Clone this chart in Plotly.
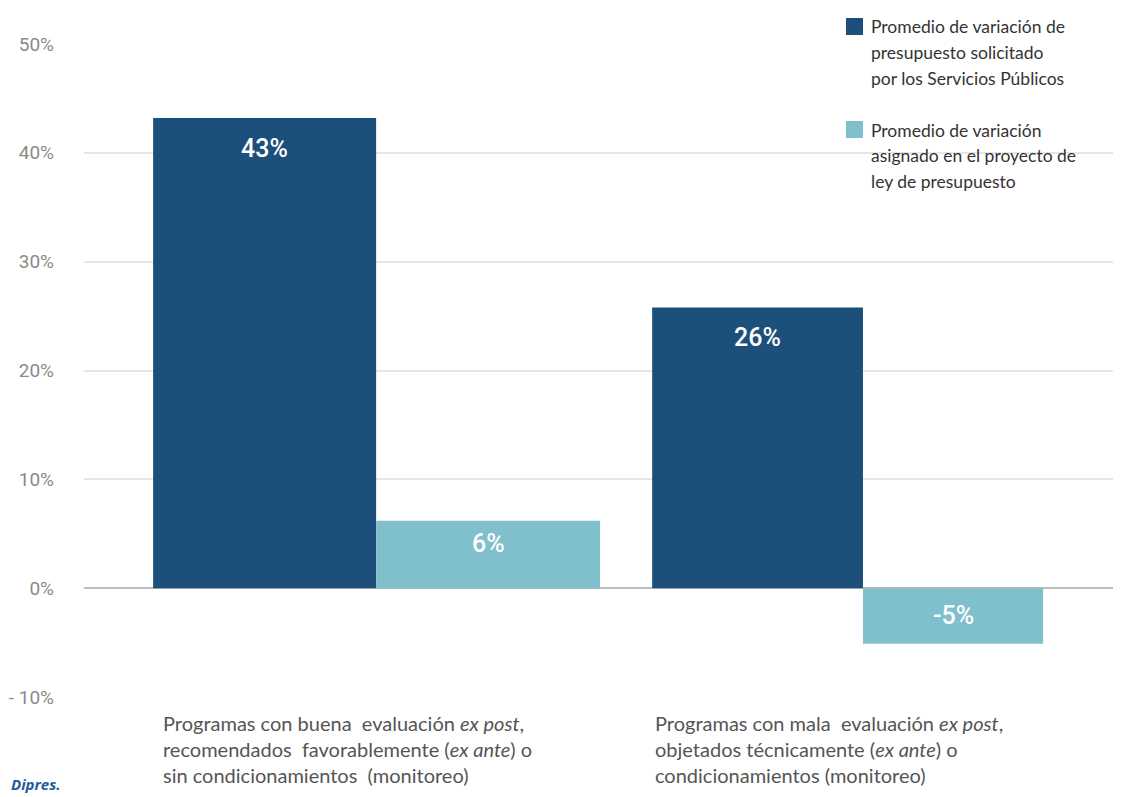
import plotly.graph_objects as go

categories = ["buena", "mala"]
category_labels = [
    "Programas con buena  evaluación <i>ex post</i>,<br>recomendados  favorablemente (<i>ex ante</i>) o<br>sin condicionamientos  (monitoreo)",
    "Programas con mala  evaluación <i>ex post</i>,<br>objetados técnicamente (<i>ex ante</i>) o<br>condicionamientos (monitoreo)",
]
solicitado = [43.2, 25.8]
asignado = [6.2, -5.1]
solicitado_labels = ["43%", "26%"]
asignado_labels = ["6%", "-5%"]
series_names = [
    "Promedio de variación de<br>presupuesto solicitado<br>por los Servicios Públicos",
    "Promedio de variación<br>asignado en el proyecto de<br>ley de presupuesto",
]
y_ticks = [-10, 0, 10, 20, 30, 40, 50]
y_tick_text = ["- 10%", "0%", "10%", "20%", "30%", "40%", "50%"]

DARK = "#1c4f7a"
LIGHT = "#80bfcc"
colors = [DARK, LIGHT]

# page has an 8px body margin: the figure starts at (8, 8) in the screenshot
OFF = 8
W, H = 1121 - OFF, 797 - OFF
ML, MR, MT, MB = 84 - OFF, 0, 44 - OFF, 100
PW, PH = W - ML - MR, H - MT - MB


def px(x):
    return (x - OFF - ML) / PW


def py(y):
    return (H - MB - (y - OFF)) / PH


fig = go.Figure()
fig.add_trace(go.Bar(
    x=categories, y=solicitado, name=series_names[0],
    marker=dict(color=DARK, line=dict(width=0)),
    width=[0.458, 0.433], offset=[-0.458, -0.433],
    hoverinfo="skip", showlegend=False,
))
fig.add_trace(go.Bar(
    x=categories, y=asignado, name=series_names[1],
    marker=dict(color=LIGHT, line=dict(width=0)),
    width=[0.46, 0.37], offset=[0, 0],
    hoverinfo="skip", showlegend=False,
))

label_font = dict(family="Roboto", size=25, color="white", weight=500)
centers_dark = [-0.229, -0.2165]
centers_light = [0.23, 0.185]
for i, c in enumerate(categories):
    fig.add_annotation(x=i + centers_dark[i], y=solicitado[i], xref="x", yref="y",
                       text=solicitado_labels[i], showarrow=False,
                       yshift=-30, font=label_font)
    v = asignado[i]
    fig.add_annotation(x=i + centers_light[i], y=v, xref="x", yref="y",
                       text=asignado_labels[i], showarrow=False,
                       yshift=-23 if v >= 0 else 28, font=label_font)

# category labels below the axis
label_x = [161, 653]
for i, txt in enumerate(category_labels):
    fig.add_annotation(x=px(label_x[i]), y=py(709), xref="paper", yref="paper",
                       xanchor="left", yanchor="top", align="left",
                       text=txt, showarrow=False,
                       font=dict(family="Lato", size=20, color="#555555"))

# legend (drawn by hand: squares + text lines)
sq_top = [18, 121]
line_y0 = [27, 130]
for k, name in enumerate(series_names):
    fig.add_shape(type="rect", xref="paper", yref="paper",
                  x0=px(846), x1=px(863), y0=py(sq_top[k]), y1=py(sq_top[k] + 17),
                  fillcolor=colors[k], line=dict(width=0))
    for j, line in enumerate(name.split("<br>")):
        fig.add_annotation(x=px(869), y=py(line_y0[k] + 25.5 * j), xref="paper", yref="paper",
                           xanchor="left", yanchor="middle", text=line, showarrow=False,
                           font=dict(family="Lato", size=17.5, color="#333333"))

fig.add_annotation(x=px(9), y=py(796), xref="paper", yref="paper",
                   xanchor="left", yanchor="bottom", text="<b><i>Dipres.</i></b>",
                   showarrow=False, font=dict(family="Open Sans", size=15, color="#1f5c9e"))

fig.update_layout(
    width=W, height=H,
    margin=dict(l=ML, r=MR, t=MT, b=MB, autoexpand=False),
    paper_bgcolor="white", plot_bgcolor="white",
    barmode="overlay",
    showlegend=False,
    xaxis=dict(type="category", range=[-0.6, 1.53], showticklabels=False,
               showgrid=False, zeroline=False, showline=False, ticks=""),
    yaxis=dict(range=[-10, 50], tickvals=y_ticks, ticktext=y_tick_text,
               showgrid=True, gridcolor="#e6e6e6", gridwidth=1.5,
               zeroline=True, zerolinecolor="#bdbdbd", zerolinewidth=2,
               ticks="", ticklabelstandoff=29,
               tickfont=dict(family="Roboto", size=19, color="#8a8a8a")),
)

fig.write_html("out.html")
